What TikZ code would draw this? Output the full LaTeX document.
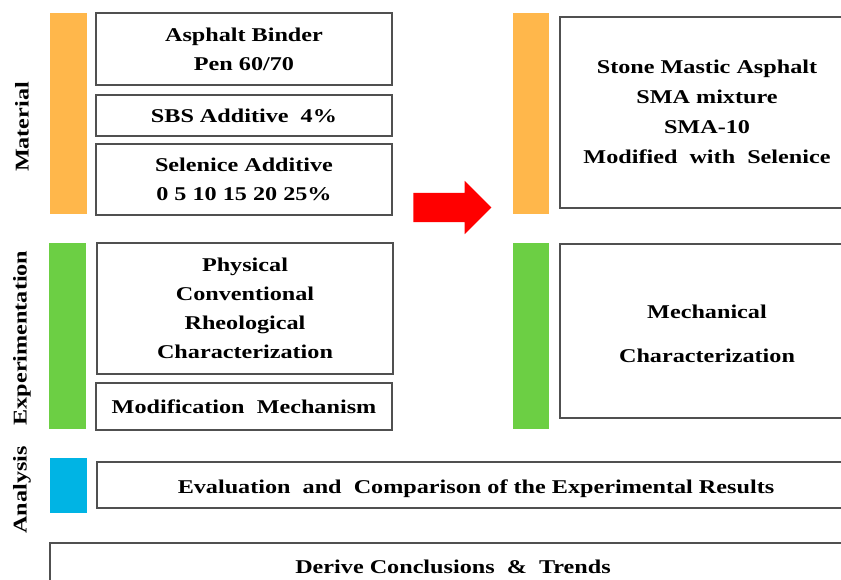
\documentclass[tikz,border=0pt]{standalone}
\usepackage{fontspec}
\setmainfont[FakeStretch=1.24]{Liberation Serif}
\usetikzlibrary{shapes.arrows, positioning}

\definecolor{matOrange}{HTML}{FFB74B}
\definecolor{expGreen}{HTML}{6CCF44}
\definecolor{anaBlue}{HTML}{00B4E4}
\definecolor{boxGray}{HTML}{505050}

\begin{document}
\begin{tikzpicture}[
    x=1pt, y=-1pt,
    font=\fontsize{19.5}{29}\selectfont\bfseries,
    every node/.style={inner sep=0pt, outer sep=0pt},
    stepbox/.style={draw=boxGray, line width=1.3pt, fill=white, align=center},
    sidelabel/.style={rotate=90, anchor=center}
    ]

    % Determines the boundries
    \clip (0,0) rectangle (841,580);
    \fill[white] (0,0) rectangle (841,580);

    % Colour bars on the left and in the middle
    \foreach \name/\col/\xa/\xb/\ya/\yb in {
        matL/matOrange/50/87/13/214, expL/expGreen/49/86/243/429,
        anaL/anaBlue/50/87/458/513,
        matR/matOrange/513/549/13/214, expR/expGreen/513/549/243/429}{
        \fill[\col] (\xa,\ya) rectangle (\xb,\yb);
        \coordinate (\name) at ({(\xa+\xb)/2},{(\ya+\yb)/2});
    }

    % Side labels
    \node[sidelabel] (lblMat) at (22,127) {Material};
    \node[sidelabel] (lblExp) at (22,338) {Experimentation};
    \node[sidelabel] (lblAna) at (22,490) {Analysis};

    % Material boxes
    \node[stepbox, minimum width=296pt, minimum height=72pt] (binder) at (244,49)
        {Asphalt Binder\\Pen 60/70};
    \node[stepbox, minimum width=296pt, minimum height=41pt] (sbs) at (244,115.5)
        {SBS Additive~~4\%};
    \node[stepbox, minimum width=296pt, minimum height=71pt] (selenice) at (244,179.5)
        {Selenice Additive\\0 5 10 15 20 25\%};

    % Experimentation boxes
    \node[stepbox, minimum width=296pt, minimum height=131pt] (physical) at (245,308.5)
        {Physical\\Conventional\\Rheological\\Characterization};
    \node[stepbox, minimum width=296pt, minimum height=47pt] (mechanism) at (244,406.5)
        {Modification~~Mechanism};

    % Mixture and mechanical boxes (cut by the right edge)
    \node[stepbox, minimum width=320pt, minimum height=191pt] (sma) at (720,112.5)
        {};
    \node[font=\fontsize{19.5}{30}\selectfont\bfseries, align=center] (smaText) at (707,112)
        {Stone Mastic Asphalt\\SMA mixture\\SMA-10\\Modified~~with~~Selenice};
    \node[stepbox, minimum width=320pt, minimum height=174pt] (mech) at (720,331)
        {};
    \node[font=\fontsize{19.5}{44}\selectfont\bfseries, align=center] (mechText) at (707,334)
        {Mechanical\\Characterization};

    % Analysis and conclusion boxes
    \node[stepbox, minimum width=800pt, minimum height=46pt] (evaluation) at (497,485)
        {};
    \node (evalText) at (476,489) {Evaluation~~and~~Comparison~of the Experimental~Results};
    \node[stepbox, minimum width=840pt, minimum height=80pt] (conclusion) at (470,583)
        {};
    \node (conclText) at (453,567) {Derive Conclusions~~\&~~Trends};

    % Arrow from material to mixture
    \node[single arrow, fill=red, draw=none, inner ysep=14.5pt, minimum height=78pt,
        single arrow head extend=12pt, single arrow tip angle=90] (flow) at (445,207.5) {};

\end{tikzpicture}
\end{document}
